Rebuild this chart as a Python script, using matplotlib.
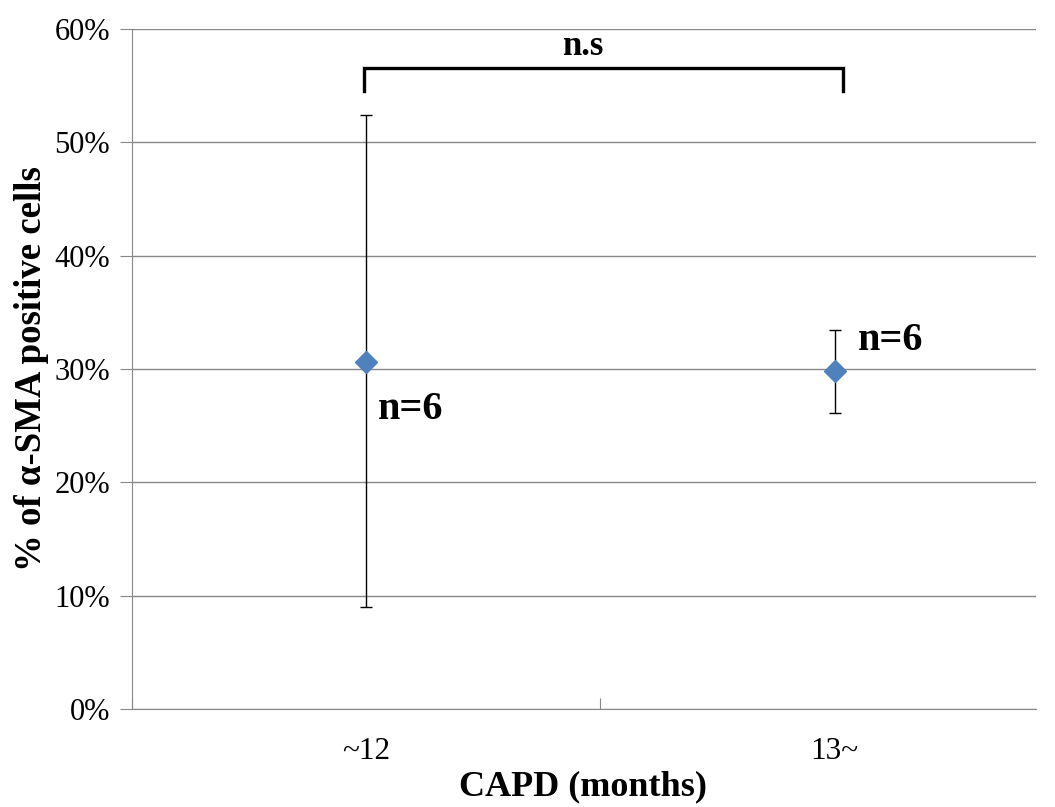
import matplotlib.pyplot as plt
from matplotlib.ticker import PercentFormatter

# values
groups = ['~12', '13~']
means = [0.306, 0.298]
err_upper = [0.524, 0.334]
err_lower = [0.090, 0.261]
n_labels = ['n=6', 'n=6']
yticks = [0, 0.1, 0.2, 0.3, 0.4, 0.5, 0.6]


def main():
    plt.rcParams['font.family'] = ['Liberation Serif', 'DejaVu Serif']

    fig = plt.figure(figsize=(10.55, 8.07), dpi=100)
    ax = fig.add_axes([0.1251, 0.1214, 0.857, 0.8427])

    xs = [0.5, 1.5]
    yerr = [[m - lo for m, lo in zip(means, err_lower)],
            [hi - m for m, hi in zip(means, err_upper)]]
    ax.errorbar(xs, means, yerr=yerr, fmt='none', ecolor='black',
                elinewidth=1, capsize=4, capthick=1, zorder=3)
    ax.plot(xs, means, linestyle='none', marker='D', markersize=11.5,
            color='#4F81BD', zorder=4)

    # n labels
    ax.text(xs[0] + 0.025, 0.264, n_labels[0], fontsize=29, fontweight='bold',
            ha='left', va='center')
    ax.text(xs[1] + 0.05, 0.325, n_labels[1], fontsize=29, fontweight='bold',
            ha='left', va='center')

    # significance bracket
    ax.plot([xs[0] - 0.004, xs[0] - 0.004, xs[1] + 0.017, xs[1] + 0.017],
            [0.545, 0.566, 0.566, 0.545], color='black', linewidth=2.4,
            solid_joinstyle='miter', clip_on=False, zorder=5)
    ax.text(0.963, 0.570, 'n.s', fontsize=25, fontweight='bold',
            ha='center', va='bottom')

    ax.set_xlim(0, 1.93)
    ax.set_ylim(0, 0.6)
    ax.set_yticks(yticks)
    ax.yaxis.set_major_formatter(PercentFormatter(1.0, decimals=0))
    ax.set_xticks([0, 1])
    ax.set_xticklabels([])
    ax.set_xticks(xs, minor=True)
    ax.set_xticklabels(groups, minor=True)
    ax.tick_params(axis='x', which='minor', length=0, labelsize=22.5, pad=20)
    ax.tick_params(axis='x', which='major', length=8, color='#888888', direction='in')
    ax.tick_params(axis='y', length=9, color='#888888', labelsize=22, pad=7)

    ax.grid(axis='y', color='#888888', linewidth=1)
    ax.set_axisbelow(True)
    for s in ['top', 'right']:
        ax.spines[s].set_visible(False)
    ax.spines['left'].set_color('#888888')
    ax.spines['bottom'].set_color('#888888')

    # x label placed by hand so it stays inside the canvas
    ax.text(0.963, -0.114, 'CAPD (months)', fontsize=26, fontweight='bold',
            ha='center', va='center', transform=ax.get_xaxis_transform())
    ax.set_ylabel('% of α-SMA positive cells', fontsize=26.5, fontweight='bold',
                  labelpad=4)

    fig.savefig('out.png', dpi=100)


if __name__ == "__main__":
    main()
